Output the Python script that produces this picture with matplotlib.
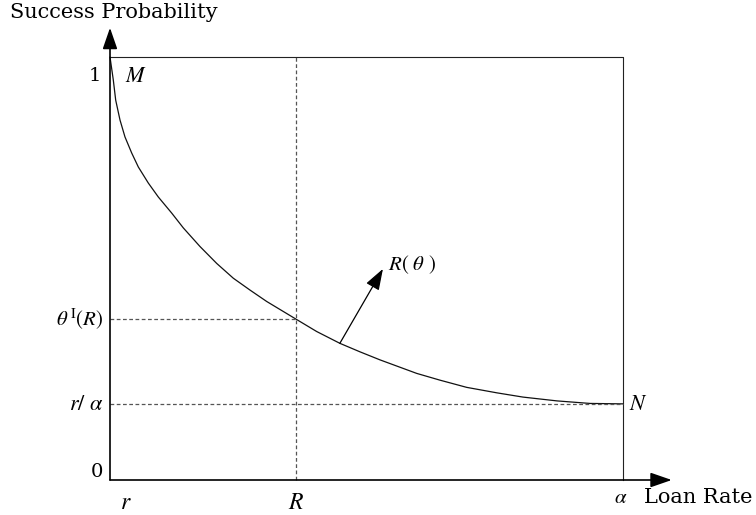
import matplotlib
matplotlib.use("Agg")
import matplotlib.pyplot as plt

# Data (normalised: x from r=0 to alpha=1, y success probability 0..1)
curve_x = [0.0, 0.0064, 0.0111, 0.0195, 0.0292, 0.0423, 0.0552, 0.0747, 0.0942, 0.1203,
           0.1429, 0.1754, 0.2080, 0.2404, 0.2729, 0.3055, 0.363, 0.4029, 0.4483, 0.4873,
           0.5263, 0.5979, 0.6433, 0.6953, 0.7544, 0.8051, 0.8713, 0.9357, 1.0]
curve_y = [1.0, 0.946, 0.898, 0.851, 0.811, 0.773, 0.740, 0.702, 0.669, 0.631,
           0.596, 0.552, 0.512, 0.477, 0.449, 0.422, 0.380, 0.351, 0.323, 0.303,
           0.284, 0.252, 0.236, 0.219, 0.206, 0.196, 0.187, 0.181, 0.180]
R_x = 0.363
theta_R = 0.380
r_over_alpha = 0.180
arrow_start = (0.448, 0.323)
arrow_end = (0.532, 0.499)

plt.rcParams['mathtext.fontset'] = 'stix'
plt.rcParams['font.family'] = ['DejaVu Serif']

W, H = 756, 515
fig = plt.figure(figsize=(W / 100, H / 100), dpi=100)
ax = fig.add_axes([110 / W, (H - 480) / H, 513 / W, 423 / H])
ax.set_xlim(0, 1)
ax.set_ylim(0, 1)
ax.axis('off')

# box
ax.plot([0, 1, 1], [1, 1, 0], color='#222222', lw=0.8, clip_on=False)
# curve
ax.plot(curve_x, curve_y, color='#111111', lw=0.9, clip_on=False,
        solid_joinstyle='round', solid_capstyle='round')
# dashed guides
dash = dict(color='#555555', lw=0.9, ls=(0, (3, 2)), clip_on=False)
ax.plot([R_x, R_x], [0, 1], **dash)
ax.plot([0, R_x], [theta_R, theta_R], **dash)
ax.plot([0, 1], [r_over_alpha, r_over_alpha], **dash)

# axes with arrows
astyle = '-|>,head_length=1.3,head_width=0.45'
ax.annotate('', xy=(0, 1.069), xytext=(0, 0), xycoords='data',
            arrowprops=dict(arrowstyle=astyle, color='black', lw=1.2, shrinkA=0, shrinkB=0),
            annotation_clip=False)
ax.annotate('', xy=(1.095, 0), xytext=(0, 0), xycoords='data',
            arrowprops=dict(arrowstyle=astyle, color='black', lw=1.2, shrinkA=0, shrinkB=0),
            annotation_clip=False)
# R(theta) arrow
ax.annotate('', xy=arrow_end, xytext=arrow_start, xycoords='data',
            arrowprops=dict(arrowstyle=astyle, color='black', lw=0.9, shrinkA=0, shrinkB=0),
            annotation_clip=False)

fs = 15
ax.text(-0.195, 1.105, 'Success Probability', fontsize=fs, ha='left', va='center')
ax.text(-0.03, 0.955, '1', fontsize=14, ha='center', va='center')
ax.text(0.03, 0.955, '$M$', fontsize=16, ha='left', va='center')
ax.text(-0.012, theta_R, r'$\theta^{\,\mathrm{I}}(R)$', fontsize=15, ha='right', va='center')
ax.text(-0.012, r_over_alpha, r'$r/\ \alpha$', fontsize=16, ha='right', va='center')
ax.text(-0.025, 0.02, '0', fontsize=14, ha='center', va='center')
ax.text(0.03, -0.053, '$r$', fontsize=17, ha='center', va='center')
ax.text(R_x, -0.053, '$R$', fontsize=17, ha='center', va='center')
ax.text(0.995, -0.042, r'$\alpha$', fontsize=15, ha='center', va='center')
ax.text(1.04, -0.042, 'Loan Rate', fontsize=fs, ha='left', va='center')
ax.text(1.012, r_over_alpha, '$N$', fontsize=16, ha='left', va='center')
ax.text(0.542, 0.508, r'$R(\ \theta\ )$', fontsize=15, ha='left', va='center')

fig.savefig('out.png', dpi=100)
